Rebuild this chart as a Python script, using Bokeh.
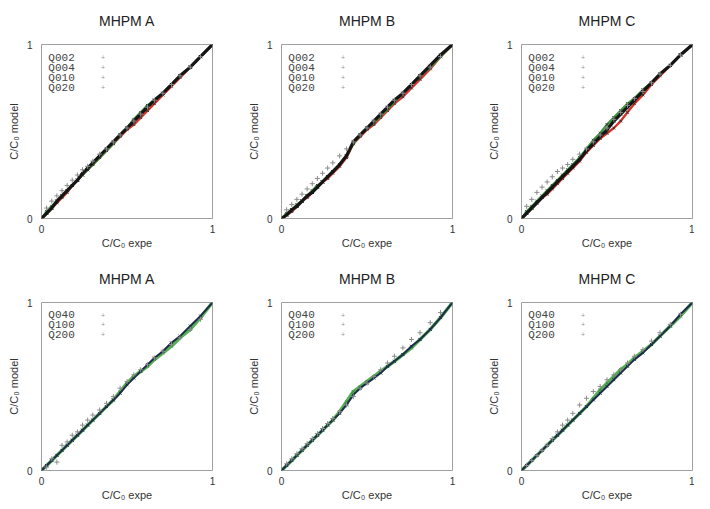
from bokeh.plotting import figure
from bokeh.layouts import column, row
from bokeh.models import Label, Range1d, FixedTicker, Title
from bokeh.embed import file_html
from bokeh.resources import INLINE

# ---------------- data ----------------
c_expe = [0.00, 0.03, 0.06, 0.09, 0.12, 0.15, 0.18, 0.21, 0.24, 0.27, 0.30, 0.34, 0.38,
          0.42, 0.46, 0.50, 0.54, 0.58, 0.62, 0.66, 0.71, 0.76, 0.81, 0.87, 0.93, 1.00]

top_names = ["Q002", "Q004", "Q010", "Q020"]
bottom_names = ["Q040", "Q100", "Q200"]
panel_titles = ["MHPM A", "MHPM B", "MHPM C"]

# MHPM A, top row
a_q002 = [0.00, 0.06, 0.10, 0.13, 0.16, 0.19, 0.22, 0.25, 0.28, 0.30, 0.33, 0.37, 0.40,
          0.44, 0.48, 0.52, 0.56, 0.60, 0.64, 0.68, 0.72, 0.77, 0.82, 0.87, 0.93, 1.00]
a_q004 = [0.00, 0.03, 0.06, 0.09, 0.12, 0.15, 0.19, 0.22, 0.25, 0.28, 0.31, 0.35, 0.39,
          0.43, 0.47, 0.51, 0.54, 0.58, 0.62, 0.66, 0.71, 0.76, 0.81, 0.87, 0.93, 1.00]
a_q010 = [0.00, 0.04, 0.07, 0.10, 0.13, 0.16, 0.19, 0.22, 0.25, 0.28, 0.31, 0.35, 0.39,
          0.43, 0.48, 0.52, 0.57, 0.61, 0.65, 0.68, 0.72, 0.77, 0.82, 0.87, 0.93, 1.00]
a_q020 = [0.00, 0.03, 0.06, 0.10, 0.13, 0.16, 0.19, 0.22, 0.26, 0.29, 0.32, 0.36, 0.40,
          0.44, 0.48, 0.52, 0.56, 0.60, 0.64, 0.68, 0.72, 0.77, 0.82, 0.87, 0.93, 1.00]

# MHPM B, top row
b_q002 = [0.00, 0.05, 0.08, 0.11, 0.14, 0.17, 0.20, 0.23, 0.26, 0.29, 0.32, 0.36, 0.40,
          0.44, 0.48, 0.52, 0.56, 0.60, 0.64, 0.68, 0.72, 0.77, 0.82, 0.87, 0.93, 1.00]
b_q004 = [0.00, 0.02, 0.04, 0.07, 0.10, 0.12, 0.15, 0.18, 0.21, 0.23, 0.26, 0.30, 0.35,
          0.43, 0.47, 0.51, 0.54, 0.58, 0.62, 0.66, 0.70, 0.75, 0.80, 0.86, 0.93, 1.00]
b_q010 = [0.00, 0.03, 0.05, 0.08, 0.10, 0.13, 0.16, 0.19, 0.21, 0.24, 0.27, 0.31, 0.36,
          0.43, 0.48, 0.52, 0.55, 0.59, 0.63, 0.67, 0.72, 0.77, 0.82, 0.87, 0.93, 1.00]
b_q020 = [0.00, 0.02, 0.05, 0.07, 0.10, 0.13, 0.15, 0.18, 0.21, 0.24, 0.27, 0.31, 0.36,
          0.44, 0.48, 0.52, 0.56, 0.60, 0.64, 0.68, 0.72, 0.77, 0.82, 0.88, 0.94, 1.00]

# MHPM C, top row
c_q002 = [0.00, 0.07, 0.11, 0.15, 0.18, 0.21, 0.24, 0.27, 0.29, 0.31, 0.34, 0.37, 0.40,
          0.44, 0.48, 0.52, 0.57, 0.61, 0.65, 0.69, 0.73, 0.78, 0.83, 0.88, 0.94, 1.00]
c_q004 = [0.00, 0.03, 0.06, 0.09, 0.12, 0.14, 0.17, 0.20, 0.23, 0.26, 0.29, 0.33, 0.38,
          0.42, 0.46, 0.49, 0.52, 0.56, 0.61, 0.66, 0.71, 0.77, 0.82, 0.88, 0.94, 1.00]
c_q010 = [0.00, 0.04, 0.07, 0.10, 0.13, 0.16, 0.19, 0.22, 0.25, 0.28, 0.31, 0.35, 0.40,
          0.45, 0.49, 0.54, 0.58, 0.62, 0.66, 0.69, 0.74, 0.78, 0.83, 0.88, 0.94, 1.00]
c_q020 = [0.00, 0.03, 0.06, 0.09, 0.12, 0.15, 0.18, 0.21, 0.24, 0.27, 0.30, 0.34, 0.39,
          0.43, 0.47, 0.51, 0.56, 0.60, 0.64, 0.68, 0.73, 0.78, 0.83, 0.88, 0.94, 1.00]

# MHPM A, bottom row
a_q040 = [0.00, 0.02, 0.07, 0.05, 0.15, 0.17, 0.21, 0.23, 0.27, 0.30, 0.33, 0.36, 0.40,
          0.44, 0.49, 0.53, 0.57, 0.60, 0.63, 0.67, 0.71, 0.75, 0.79, 0.84, 0.90, 1.00]
a_q100 = [0.00, 0.03, 0.06, 0.09, 0.12, 0.15, 0.18, 0.21, 0.24, 0.27, 0.30, 0.34, 0.38,
          0.42, 0.47, 0.52, 0.56, 0.59, 0.62, 0.66, 0.70, 0.74, 0.79, 0.84, 0.91, 1.00]
a_q200 = [0.00, 0.03, 0.06, 0.09, 0.12, 0.15, 0.18, 0.21, 0.24, 0.27, 0.30, 0.34, 0.38,
          0.42, 0.46, 0.51, 0.55, 0.59, 0.63, 0.67, 0.71, 0.76, 0.80, 0.86, 0.92, 1.00]

# MHPM B, bottom row
b_q040 = [0.00, 0.04, 0.07, 0.10, 0.13, 0.16, 0.19, 0.22, 0.25, 0.28, 0.31, 0.35, 0.39,
          0.44, 0.49, 0.52, 0.56, 0.60, 0.64, 0.68, 0.73, 0.78, 0.82, 0.88, 0.94, 1.00]
b_q100 = [0.00, 0.03, 0.06, 0.09, 0.12, 0.15, 0.18, 0.21, 0.24, 0.27, 0.30, 0.35, 0.41,
          0.47, 0.50, 0.53, 0.56, 0.59, 0.62, 0.65, 0.69, 0.73, 0.78, 0.84, 0.91, 1.00]
b_q200 = [0.00, 0.03, 0.06, 0.09, 0.12, 0.15, 0.18, 0.21, 0.24, 0.27, 0.30, 0.34, 0.39,
          0.45, 0.49, 0.52, 0.55, 0.58, 0.62, 0.65, 0.69, 0.74, 0.78, 0.84, 0.91, 1.00]

# MHPM C, bottom row
c_q040 = [0.00, 0.03, 0.06, 0.09, 0.12, 0.15, 0.19, 0.23, 0.27, 0.30, 0.34, 0.39, 0.43,
          0.47, 0.50, 0.54, 0.57, 0.60, 0.64, 0.68, 0.72, 0.77, 0.82, 0.87, 0.93, 1.00]
c_q100 = [0.00, 0.03, 0.06, 0.09, 0.12, 0.15, 0.18, 0.21, 0.24, 0.27, 0.30, 0.34, 0.38,
          0.43, 0.48, 0.52, 0.56, 0.60, 0.63, 0.67, 0.71, 0.75, 0.80, 0.86, 0.92, 1.00]
c_q200 = [0.00, 0.03, 0.06, 0.09, 0.12, 0.15, 0.18, 0.21, 0.24, 0.27, 0.30, 0.34, 0.38,
          0.42, 0.46, 0.50, 0.54, 0.58, 0.62, 0.66, 0.70, 0.75, 0.80, 0.86, 0.93, 1.00]

top_series = [[a_q002, a_q004, a_q010, a_q020],
              [b_q002, b_q004, b_q010, b_q020],
              [c_q002, c_q004, c_q010, c_q020]]
bottom_series = [[a_q040, a_q100, a_q200],
                 [b_q040, b_q100, b_q200],
                 [c_q040, c_q100, c_q200]]

# ---------------- styles ----------------
# (draw order, line colour, line width, marker, marker colour, marker size)
top_styles = [
    (3, None, 0, "cross", "#8c8c8c", 5),
    (0, "#d8342a", 2.4, "x", "#333333", 4),
    (1, "#3c9a3c", 2.4, "x", "#333333", 4),
    (2, "#151515", 3.2, "x", "#151515", 4),
]
bottom_styles = [
    (2, None, 0, "cross", "#8c8c8c", 5),
    (0, "#55b055", 3.4, "x", "#3d8b3d", 4),
    (1, "#1e2b4a", 2.0, "x", "#1e2b4a", 4),
]

FONT = "Liberation Sans"


def make_panel(title, names, series, styles, col, bottom_row):
    p = figure(frame_width=171, frame_height=(168 if bottom_row else 174),
               output_backend="svg", toolbar_location=None,
               x_range=Range1d(0, 1), y_range=Range1d(0, 1),
               min_border_left=41, min_border_right=(28 if col < 2 else 2),
               min_border_top=44, min_border_bottom=(31 if bottom_row else 40))

    # a thin blank band between the frame and the title, then the title itself
    p.add_layout(Title(text=" ", text_font_size="8px", standoff=0), "above")
    p.add_layout(Title(text=title, align="center", text_font=FONT,
                       text_font_size="14px", text_font_style="normal",
                       text_color="#222222"), "above")

    p.grid.visible = False
    p.outline_line_color = "#a0a0a0"
    p.outline_line_width = 1
    p.background_fill_color = "white"
    p.border_fill_color = "white"

    for ax in (p.xaxis[0], p.yaxis[0]):
        ax.ticker = FixedTicker(ticks=[0, 1])
        ax.axis_line_color = None
        ax.major_tick_line_color = None
        ax.minor_tick_line_color = None
        ax.major_tick_out = 0
        ax.major_tick_in = 0
        ax.minor_tick_out = 0
        ax.minor_tick_in = 0
        ax.major_label_text_font = FONT
        ax.major_label_text_font_size = "10px"
        ax.major_label_text_color = "#333333"
        ax.axis_label_text_font = FONT
        ax.axis_label_text_font_size = "11px"
        ax.axis_label_text_font_style = "normal"
        ax.axis_label_text_color = "#333333"
    p.xaxis.axis_label = "C/C\u2080 expe"
    p.yaxis.axis_label = "C/C\u2080 model"
    p.xaxis.major_label_standoff = 6
    p.xaxis.axis_label_standoff = 1
    p.yaxis.major_label_standoff = 9
    p.yaxis.axis_label_standoff = 4

    order = sorted(range(len(series)), key=lambda i: styles[i][0])
    for i in order:
        _, lc, lw, mk, mc, ms = styles[i]
        if lc is not None:
            p.line(c_expe, series[i], line_color=lc, line_width=lw)
        p.scatter(c_expe, series[i], marker=mk, size=ms, line_color=mc, line_width=1)

    # key (text then sample), in the top-left corner of the frame
    for k, name in enumerate(names):
        yk = 0.925 - 0.058 * k
        p.add_layout(Label(x=0.04, y=yk, text=name, text_font="Liberation Mono",
                           text_font_size="11px", text_color="#444444",
                           text_baseline="middle", text_align="left"))
        p.add_layout(Label(x=0.36, y=yk, text="+", text_font=FONT,
                           text_font_size="7px", text_color="#999999",
                           text_baseline="middle", text_align="center"))
    return p


top_row = [make_panel(panel_titles[c], top_names, top_series[c], top_styles, c, False)
           for c in range(3)]
bottom_row = [make_panel(panel_titles[c], bottom_names, bottom_series[c], bottom_styles, c, True)
              for c in range(3)]

layout = column(row(*top_row), row(*bottom_row))

with open("out.html", "w") as f:
    f.write(file_html(layout, INLINE))
